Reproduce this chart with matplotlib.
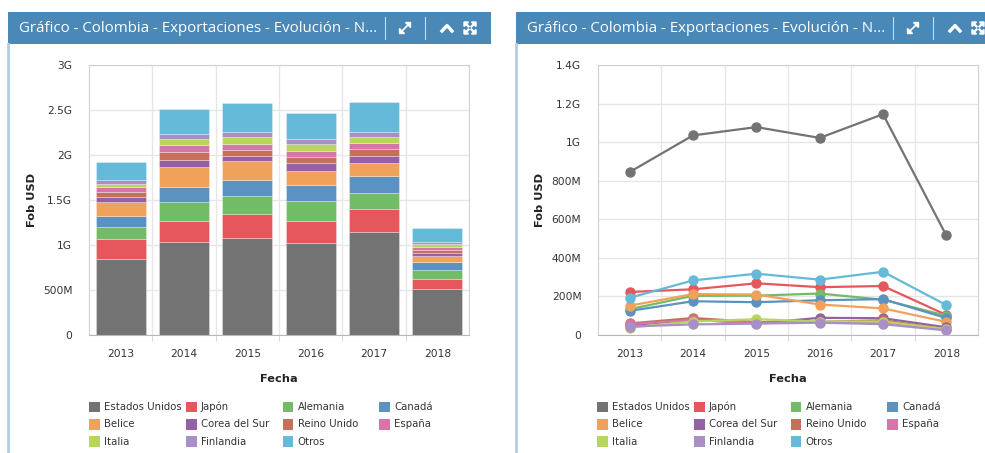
import numpy as np
import matplotlib
matplotlib.use("Agg")
import matplotlib.pyplot as plt
from matplotlib.patches import Rectangle, Polygon
from matplotlib.lines import Line2D

# data (millones de USD)
years = ["2013", "2014", "2015", "2016", "2017", "2018"]
paises = ["Estados Unidos", "Japón", "Alemania", "Canadá", "Belice", "Corea del Sur",
          "Reino Unido", "España", "Italia", "Finlandia", "Otros"]
estados_unidos = [845, 1035, 1078, 1022, 1145, 516]
japon = [223, 237, 268, 248, 254, 104]
alemania = [134, 203, 204, 215, 183, 100]
canada = [125, 175, 170, 180, 186, 88]
belice = [152, 212, 210, 158, 138, 68]
corea = [50, 80, 60, 89, 87, 40]
reino_unido = [60, 88, 67, 68, 76, 30]
espana = [56, 78, 62, 68, 66, 30]
italia = [38, 70, 82, 70, 70, 30]
finlandia = [44, 55, 59, 64, 56, 24]
otros = [193, 283, 318, 287, 328, 155]
series = [estados_unidos, japon, alemania, canada, belice, corea,
          reino_unido, espana, italia, finlandia, otros]
colores = ["#737373", "#e5575c", "#72bb67", "#5b92c1", "#f0a15a", "#9461a5",
           "#c4705b", "#d676a8", "#b8d65c", "#a88fc6", "#64bad8"]

titulo = "Gráfico - Colombia - Exportaciones - Evolución - N..."

W, H = 985, 453
fig = plt.figure(figsize=(W / 100, H / 100), dpi=100)
fx = lambda px: px / W
fy = lambda py: 1 - py / H
txt = "#333333"


def fmt(v, pos=None):
    if v == 0:
        return "0"
    if v >= 1000:
        return ("%g" % (v / 1000)) + "G"
    return "%gM" % v


def header(x0):
    fig.patches.append(Rectangle((fx(x0), fy(44)), fx(483), 32 / H, transform=fig.transFigure,
                                 facecolor="#4a88b8", edgecolor="none", zorder=0))
    fig.lines.append(Line2D([fx(x0), fx(x0)], [fy(44), 0], transform=fig.transFigure,
                            color="#b3cde3", lw=2))
    fig.text(fx(x0 + 11), fy(28.5), titulo, family="Open Sans", fontsize=10.8,
             color="white", va="center", ha="left")
    for sx in (x0 + 377, x0 + 417):
        fig.lines.append(Line2D([fx(sx), fx(sx)], [fy(17), fy(39)], transform=fig.transFigure,
                                color="white", lw=0.8, alpha=0.7))
    # icono expandir
    cx, cy = x0 + 397, 28
    fig.lines.append(Line2D([fx(cx - 4), fx(cx + 4)], [fy(cy + 4), fy(cy - 4)],
                            transform=fig.transFigure, color="white", lw=1.2))
    for sgn in (1, -1):
        tx, ty = cx + sgn * 5.5, cy - sgn * 5.5
        fig.patches.append(Polygon([(fx(tx), fy(ty)), (fx(tx - sgn * 5), fy(ty)),
                                    (fx(tx), fy(ty + sgn * 5))], closed=True,
                                   transform=fig.transFigure, color="white"))
    # icono contraer
    cx = x0 + 439
    fig.lines.append(Line2D([fx(cx - 5), fx(cx), fx(cx + 5)], [fy(31), fy(25.5), fy(31)],
                            transform=fig.transFigure, color="white", lw=2.4))
    # pantalla completa
    cx = x0 + 462
    for sx, sy in ((1, 1), (1, -1), (-1, 1), (-1, -1)):
        fig.lines.append(Line2D([fx(cx + sx * 1.5), fx(cx + sx * 4)],
                                [fy(cy + sy * 1.5), fy(cy + sy * 4)],
                                transform=fig.transFigure, color="white", lw=1.6))
        tx, ty = cx + sx * 6, cy + sy * 6
        fig.patches.append(Polygon([(fx(tx), fy(ty)), (fx(tx - sx * 4.5), fy(ty)),
                                    (fx(tx), fy(ty - sy * 4.5))], closed=True,
                                   transform=fig.transFigure, color="white"))


def legend(x0):
    for i, (nombre, c) in enumerate(zip(paises, colores)):
        r, k = divmod(i, 4)
        x = x0 + k * 96.6
        y = 407 + r * 17.4
        fig.patches.append(Rectangle((fx(x), fy(y + 5.3)), fx(10.7), 10.7 / H,
                                     transform=fig.transFigure, facecolor=c, edgecolor="none"))
        fig.text(fx(x + 15), fy(y), nombre, fontsize=7.3, color=txt, va="center", ha="left")


def style(ax, ymax, step):
    ax.set_xlim(-0.5, 5.5)
    ax.set_ylim(0, ymax)
    ax.set_yticks(np.arange(0, ymax + 1, step))
    ax.yaxis.set_major_formatter(plt.FuncFormatter(fmt))
    ax.set_xticks(range(6))
    ax.set_xticklabels(years)
    ax.set_xticks(np.arange(0.5, 5, 1), minor=True)
    ax.grid(True, axis="y", color="#e6e6e6", lw=1)
    ax.grid(True, axis="x", which="minor", color="#e6e6e6", lw=1)
    ax.set_axisbelow(True)
    ax.tick_params(axis="both", which="major", length=0, labelsize=7.7, labelcolor=txt)
    ax.tick_params(axis="x", which="major", pad=10)
    ax.tick_params(axis="y", which="major", pad=12)
    ax.tick_params(axis="x", which="minor", length=4, color="#d0d0d0")
    for s in ax.spines.values():
        s.set_color("#d0d0d0")
    ax.spines["bottom"].set_color("#b8b8b8")
    ax.set_ylabel("Fob USD", fontsize=8.2, fontweight="bold", color="#222222", va="center")
    ax.set_xlabel("Fecha", fontsize=8.2, fontweight="bold", color="#222222")
    ax.xaxis.label.set_va("center")
    ax.xaxis.set_label_coords(0.5, (335 - 379) / 270)


x = np.arange(len(years))

# barras apiladas
ax1 = fig.add_axes([fx(89), fy(335), fx(380), 270 / H])
bottom = np.zeros(len(years))
for vals, c in zip(series, colores):
    ax1.bar(x, vals, 0.79, bottom=bottom, color=c, edgecolor=(1, 1, 1, 0.35), lw=0.6)
    bottom += np.array(vals)
style(ax1, 3000, 500)
ax1.yaxis.set_label_coords((32 - 89) / 380, 0.5)

# lineas
ax2 = fig.add_axes([fx(598), fy(335), fx(380), 270 / H])
for vals, c in zip(series, colores):
    ax2.plot(x, vals, color=c, lw=1.6, marker="o", markersize=6.5, clip_on=False)
style(ax2, 1400, 200)
ax2.yaxis.set_label_coords((540 - 598) / 380, 0.5)

header(8)
header(516)
legend(89.3)
legend(597.3)

fig.savefig("out.png", dpi=100)
